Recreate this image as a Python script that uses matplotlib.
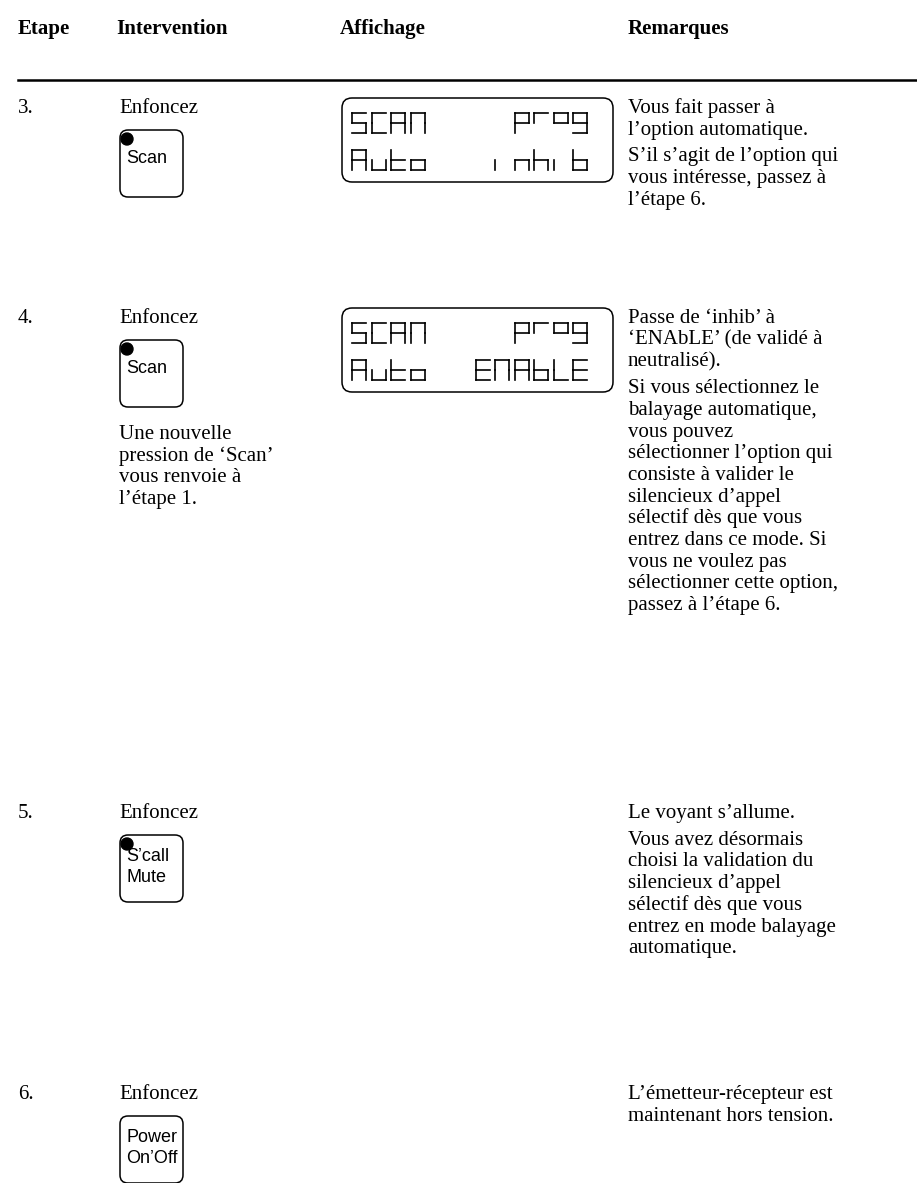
import matplotlib.pyplot as plt
from matplotlib.patches import FancyBboxPatch, Circle

plt.rcParams['font.family'] = ['Liberation Serif', 'DejaVu Serif']

W, H = 917, 1183

headers = ["Etape", "Intervention", "Affichage", "Remarques"]
step_nums = ["3.", "4.", "5.", "6."]
action = "Enfoncez"
button_labels = [["Scan"], ["Scan"], ["S\u2019call", "Mute"], ["Power", "On\u2019Off"]]
button_led = [True, True, True, False]
lcd_top = [("SCAN", "prog"), ("SCAN", "prog"), None, None]
lcd_bottom = [("Auto", "inhib"), ("Auto", "ENAbLE"), None, None]
after_button = [[], ["Une nouvelle", "pression de \u2018Scan\u2019", "vous renvoie \u00e0", "l\u2019\u00e9tape 1."], [], []]
remarks = [
    [["Vous fait passer \u00e0", "l\u2019option automatique."],
     ["S\u2019il s\u2019agit de l\u2019option qui", "vous int\u00e9resse, passez \u00e0", "l\u2019\u00e9tape 6."]],
    [["Passe de \u2018inhib\u2019 \u00e0", "\u2018ENAbLE\u2019 (de valid\u00e9 \u00e0", "neutralis\u00e9)."],
     ["Si vous s\u00e9lectionnez le", "balayage automatique,", "vous pouvez",
      "s\u00e9lectionner l\u2019option qui", "consiste \u00e0 valider le", "silencieux d\u2019appel",
      "s\u00e9lectif d\u00e8s que vous", "entrez dans ce mode. Si", "vous ne voulez pas",
      "s\u00e9lectionner cette option,", "passez \u00e0 l\u2019\u00e9tape 6."]],
    [["Le voyant s\u2019allume."],
     ["Vous avez d\u00e9sormais", "choisi la validation du", "silencieux d\u2019appel",
      "s\u00e9lectif d\u00e8s que vous", "entrez en mode balayage", "automatique."]],
    [["L\u2019\u00e9metteur-r\u00e9cepteur est", "maintenant hors tension."]],
]

# 7-segment glyphs (a top, b up-right, c low-right, d bottom, e low-left, f up-left, g middle)
SEG = {'S': 'afgcd', 'C': 'afed', 'A': 'abcefg', 'N': 'abcef', 'E': 'afged', 'L': 'fed',
       'b': 'fegcd', 'p': 'abfge', 'r': 'af', 'o': 'cdeg', 'g': 'abcdfg', 'u': 'cde',
       't': 'fged', 'i': 'e', 'n': 'egc', 'h': 'fegc'}
RAISED = {'o': 'abfg'}

col_x = [18, 116, 340, 628]
row_y = [107, 317, 812, 1093]
fs = 15
line_h = 21.7
para_gap = 5


def draw_char(ax, ch, x0, y0, w, h, raised=False):
    segs = RAISED.get(ch, SEG.get(ch, '')) if raised else SEG.get(ch, '')
    pts = {'a': ((x0, y0), (x0 + w, y0)), 'b': ((x0 + w, y0), (x0 + w, y0 + h / 2)),
           'c': ((x0 + w, y0 + h / 2), (x0 + w, y0 + h)), 'd': ((x0, y0 + h), (x0 + w, y0 + h)),
           'e': ((x0, y0 + h / 2), (x0, y0 + h)), 'f': ((x0, y0), (x0, y0 + h / 2)),
           'g': ((x0, y0 + h / 2), (x0 + w, y0 + h / 2))}
    for s in segs:
        (xa, ya), (xb, yb) = pts[s]
        ax.plot([xa, xb], [ya, yb], color='black', lw=1.2, solid_capstyle='projecting')


def draw_word(ax, word, x0, y0, right=False, raised=False):
    cw, pitch, ch_h = 14, 19.5, 20
    if right:
        x0 = x0 - (len(word) - 1) * pitch - cw
    for k, c in enumerate(word):
        draw_char(ax, c, x0 + k * pitch, y0, cw, ch_h, raised)


fig = plt.figure(figsize=(W / 100, H / 100), dpi=100)
ax = fig.add_axes([0, 0, 1, 1])
ax.set_xlim(0, W)
ax.set_ylim(H, 0)
ax.axis('off')

for x, t in zip(col_x, headers):
    ax.text(x, 34, t, fontsize=fs, fontweight='bold', va='baseline')
ax.plot([18, W], [80, 80], color='black', lw=1.8)

for i, y in enumerate(row_y):
    base = y + 6
    ax.text(col_x[0], base, step_nums[i], fontsize=fs, va='baseline')
    ax.text(col_x[1] + 3, base, action, fontsize=fs, va='baseline')

    # button
    bx, by, bw, bh = 120, y + 23, 63, 67
    ax.add_patch(FancyBboxPatch((bx, by), bw, bh, boxstyle="round,pad=0,rounding_size=8",
                                fc='white', ec='black', lw=1.1))
    if button_led[i]:
        ax.add_patch(Circle((bx + 7, by + 9), 6, color='black'))
    labels = button_labels[i]
    ly = by + 33 if len(labels) == 1 else by + 26
    for k, lab in enumerate(labels):
        ax.text(bx + 6, ly + k * 21, lab, fontsize=13, family='Liberation Sans', va='baseline')

    for k, t in enumerate(after_button[i]):
        ax.text(col_x[1] + 3, by + bh + 32 + k * line_h, t, fontsize=fs, va='baseline')

    # LCD
    if lcd_top[i] is not None:
        lx, lyy = 342, y - 9
        ax.add_patch(FancyBboxPatch((lx, lyy), 271, 84, boxstyle="round,pad=0,rounding_size=10",
                                    fc='none', ec='black', lw=1.1))
        draw_word(ax, lcd_top[i][0], lx + 10, lyy + 15)
        draw_word(ax, lcd_top[i][1], lx + 245, lyy + 15, right=True, raised=True)
        draw_word(ax, lcd_bottom[i][0], lx + 10, lyy + 52)
        draw_word(ax, lcd_bottom[i][1], lx + 245, lyy + 52, right=True)

    # remarks
    yy = base
    for p, para in enumerate(remarks[i]):
        if p > 0:
            yy += para_gap
        for t in para:
            ax.text(col_x[3], yy, t, fontsize=fs, va='baseline')
            yy += line_h

fig.savefig('out.png', dpi=100, facecolor='white')
